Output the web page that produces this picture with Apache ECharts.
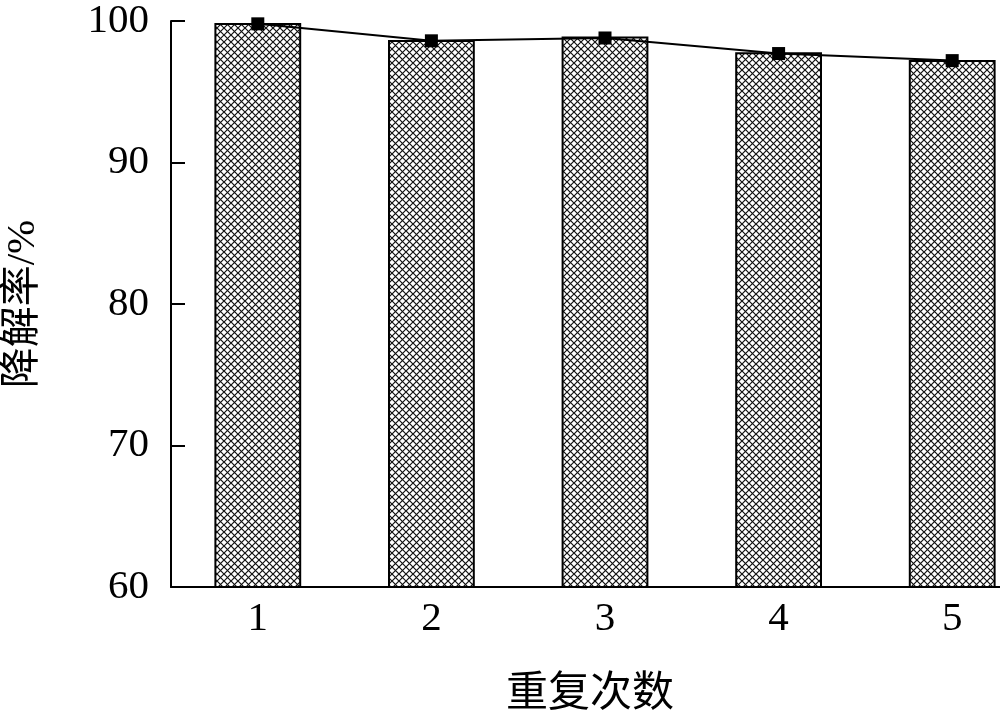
<!DOCTYPE html>
<html>
<head>
<meta charset="utf-8">
<script src="https://cdn.jsdelivr.net/npm/echarts@6/dist/echarts.min.js"></script>
<style>html,body{margin:0;padding:0;background:#fff}#c{width:1000px;height:715px}</style>
</head>
<body>
<div id="c"></div>
<script>
const categories = ['1', '2', '3', '4', '5'];
const barValues = [99.85, 98.65, 98.9, 97.8, 97.25];
const lineValues = [99.8, 98.6, 98.8, 97.7, 97.2];
const yTicks = {min: 60, max: 100, interval: 10};

function hatch() {
  const s = 7;
  const c = document.createElement('canvas');
  c.width = s; c.height = s;
  const g = c.getContext('2d');
  g.fillStyle = '#fff';
  g.fillRect(0, 0, s, s);
  g.strokeStyle = '#111';
  g.lineWidth = 1.2;
  g.beginPath();
  g.moveTo(-1, -1); g.lineTo(s + 1, s + 1);
  g.moveTo(-1, s + 1); g.lineTo(s + 1, -1);
  g.stroke();
  return c;
}

const serif = '"Liberation Serif", "Times New Roman", serif';
const chart = echarts.init(document.getElementById('c'), null, {renderer: 'canvas'});
chart.setOption({
  animation: false,
  backgroundColor: '#fff',
  grid: {left: 171, top: 21, bottom: 128, width: 868, containLabel: false, outerBoundsMode: 'none'},
  xAxis: {
    type: 'category',
    data: categories,
    name: '重复次数',
    nameLocation: 'middle',
    nameGap: 82,
    nameTextStyle: {fontFamily: '"Noto Sans CJK SC"', fontSize: 42, color: '#000', padding: [0, 30, 0, 0]},
    axisLine: {lineStyle: {color: '#000', width: 2}},
    axisTick: {show: true, alignWithLabel: true, inside: true, length: 15, lineStyle: {color: '#000', width: 2}},
    axisLabel: {fontFamily: serif, fontSize: 41, color: '#000', margin: 12}
  },
  yAxis: {
    type: 'value',
    min: yTicks.min, max: yTicks.max, interval: yTicks.interval,
    name: '降解率/%',
    nameLocation: 'middle',
    nameGap: 127,
    nameRotate: 90,
    nameTextStyle: {fontFamily: '"Liberation Serif", "Noto Sans CJK SC"', fontSize: 41, color: '#000'},
    axisLine: {show: true, lineStyle: {color: '#000', width: 2}},
    axisTick: {show: true, inside: true, length: 14, lineStyle: {color: '#000', width: 2}},
    axisLabel: {fontFamily: serif, fontSize: 41, color: '#000', margin: 22},
    splitLine: {show: false}
  },
  series: [
    {
      type: 'bar',
      data: barValues,
      barWidth: '50%',
      itemStyle: {color: {image: hatch(), repeat: 'repeat'}, borderColor: '#000', borderWidth: 2},
      z: 2
    },
    {
      type: 'line',
      data: lineValues,
      symbol: 'rect',
      symbolSize: 13,
      lineStyle: {color: '#000', width: 2},
      itemStyle: {color: '#000'},
      z: 3
    }
  ]
});
</script>
</body>
</html>
